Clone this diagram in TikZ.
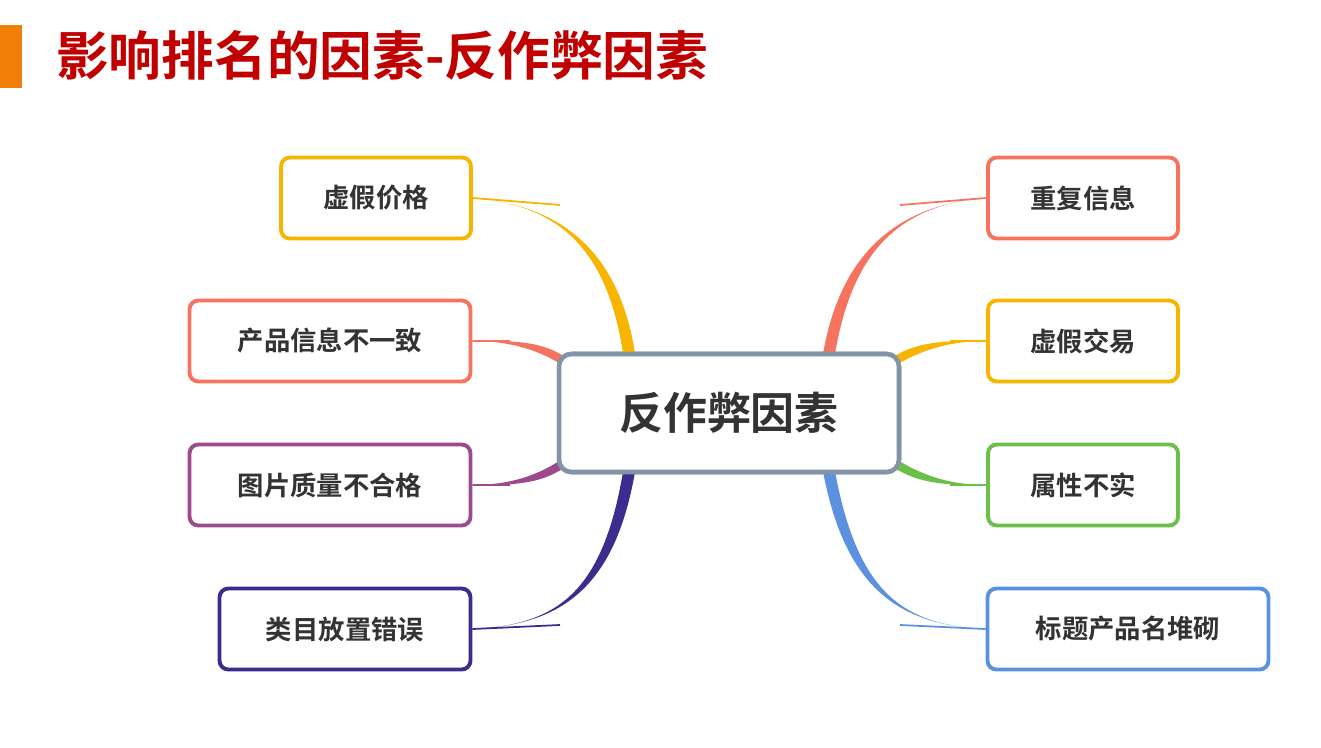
\documentclass[tikz,border=0pt]{standalone}
\usepackage{fontspec}
\newfontfamily\cjk{Noto Sans CJK SC}[BoldFont={* Bold}]
\usetikzlibrary{arrows.meta, positioning, calc}
\definecolor{titlered}{HTML}{C00000}
\definecolor{barorange}{HTML}{F07F09}
\definecolor{cyellow}{HTML}{F7B500}
\definecolor{csalmon}{HTML}{F5735F}
\definecolor{cpurple}{HTML}{9C4A8D}
\definecolor{cindigo}{HTML}{3B2C8E}
\definecolor{cgreen}{HTML}{6CC04A}
\definecolor{cblue}{HTML}{5B91DE}
\definecolor{cgray}{HTML}{8494A8}
\tikzset{
  leaf/.style={draw=#1, line width=2.2pt, rounded corners=5pt, fill=white,
    minimum height=1.62cm, text=black!80, font=\cjk\bfseries\fontsize{15}{18}\selectfont},
  hub/.style={draw=cgray, line width=2.6pt, rounded corners=7pt, fill=white,
    minimum width=6.8cm, minimum height=2.36cm, text=black!80,
    font=\cjk\bfseries\fontsize{25}{30}\selectfont}
}
% tapered branch: colour, start, control 1, control 2, end, half width vector
\newcommand{\branch}[6]{%
  \fill[#1] ($(#2)+(#6)$) .. controls ($(#3)+(#6)$) and (#4) .. (#5)
    .. controls (#4) and ($(#3)-(#6)$) .. ($(#2)-(#6)$) -- cycle;
  \draw[#1, line width=1pt] (#4) .. controls ($(#4)!0.6!(#5)$) .. (#5);}
\begin{document}
\begin{tikzpicture}[x=0.02cm, y=-0.02cm]
\useasboundingbox (0,0) rectangle (1321,747);

% Title
\fill[barorange] (0,25) rectangle (22,88);
\node[anchor=west, text=titlered, font=\cjk\bfseries\fontsize{30}{36}\selectfont] (title) at (50,55) {影响排名的因素-反作弊因素};

% Nodes
\node[hub] (H) at (729,413) {反作弊因素};
\node[leaf=cyellow, minimum width=3.8cm] (L1) at (376,198) {虚假价格};
\node[leaf=csalmon, minimum width=5.62cm] (L2) at (330,341) {产品信息不一致};
\node[leaf=cpurple, minimum width=5.62cm] (L3) at (330,485) {图片质量不合格};
\node[leaf=cindigo, minimum width=5.02cm] (L4) at (345,629) {类目放置错误};
\node[leaf=csalmon, minimum width=3.8cm] (R1) at (1083,198) {重复信息};
\node[leaf=cyellow, minimum width=3.8cm] (R2) at (1083,341) {虚假交易};
\node[leaf=cgreen, minimum width=3.8cm] (R3) at (1083,485) {属性不实};
\node[leaf=cblue, minimum width=5.62cm] (R4) at (1128,629) {标题产品名堆砌};

% Branches
\begin{scope}[on background layer/.style={}]
\branch{cyellow}{630,360}{615,250}{560,205}{L1.east}{6,0}
\branch{csalmon}{565,362}{540,345}{510,341}{L2.east}{0,5}
\branch{cpurple}{565,462}{540,480}{510,485}{L3.east}{0,5}
\branch{cindigo}{630,466}{610,590}{560,625}{L4.east}{6,0}
\branch{csalmon}{828,360}{845,250}{900,205}{R1.west}{6,0}
\branch{cyellow}{893,362}{920,345}{950,341}{R2.west}{0,5}
\branch{cgreen}{893,462}{920,480}{950,485}{R3.west}{0,5}
\branch{cblue}{828,466}{850,590}{900,625}{R4.west}{6,0}
\end{scope}
\node[hub] at (H) {反作弊因素};
\end{tikzpicture}
\end{document}
